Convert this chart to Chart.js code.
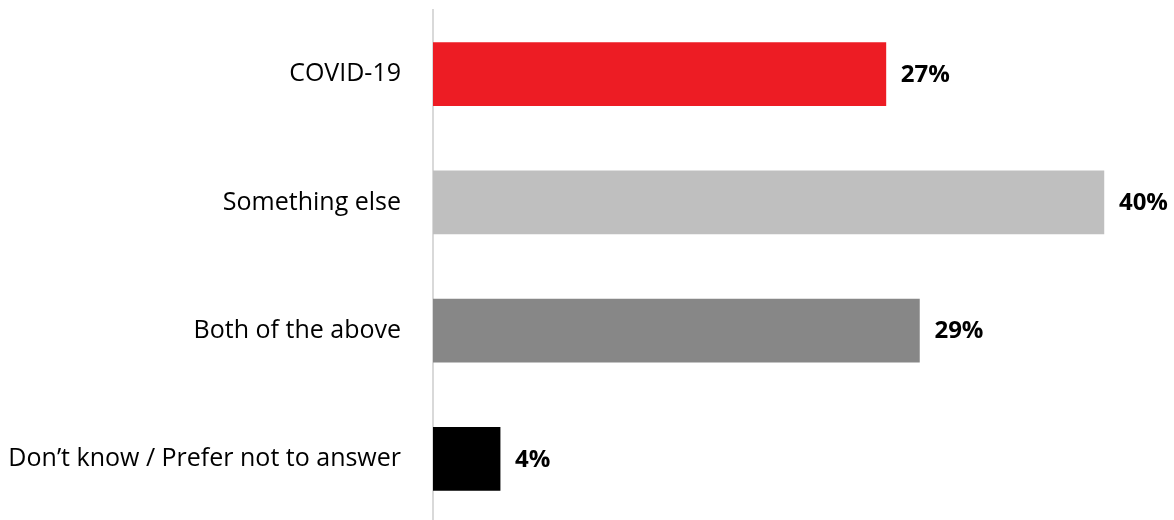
<!DOCTYPE html>
<html>
<head>
<meta charset="utf-8">
<script src="https://cdn.jsdelivr.net/npm/chart.js@4"></script>
<style>
  html, body { margin: 0; padding: 0; background: #fff; overflow: hidden; width: 1174px; height: 520px; }
  canvas { display: block; }
</style>
</head>
<body>
<canvas id="chart" width="1174" height="533"></canvas>
<script>
const categories = ["COVID-19", "Something else", "Both of the above", "Don\u2019t know / Prefer not to answer"];
const values = [27, 40, 29, 4];
const barColors = ["#ED1C24", "#BFBFBF", "#878787", "#000000"];

// draw the % next to each bar
const valueLabels = {
    id: "valueLabels",
    afterDatasetsDraw(chart) {
        const ctx = chart.ctx;
        const meta = chart.getDatasetMeta(0);
        ctx.save();
        ctx.font = "bold 24px 'Open Sans'";
        ctx.fillStyle = "#000";
        ctx.textBaseline = "middle";
        meta.data.forEach((bar, i) => {
            ctx.fillText(values[i] + "%", bar.x + 15, bar.y + 1);
        });
        ctx.restore();
    }
};

const ctx = document.getElementById("chart").getContext("2d");
const chart = new Chart(ctx, {
    type: "bar",
    data: {
        labels: categories,
        datasets: [{
            data: values,
            backgroundColor: barColors,
            barThickness: 63
        }]
    },
    options: {
        indexAxis: "y",
        responsive: false,
        animation: false,
        layout: { padding: { top: 10, right: 3, bottom: 10, left: 0 } },
        plugins: {
            legend: { display: false },
            tooltip: { enabled: false }
        },
        scales: {
            x: {
                display: false,
                min: 0,
                max: 44
            },
            y: {
                afterFit(scale) { scale.width = 433; },
                // ticks are not drawn, tickLength only makes the gap before the labels
                grid: { display: false, drawTicks: true, tickLength: 32 },
                border: { display: true, color: "#D9D9D9", width: 2 },
                ticks: {
                    padding: 0,
                    color: "#000",
                    font: { family: "'Open Sans'", size: 25, lineHeight: 0.7 }
                }
            }
        }
    },
    plugins: [valueLabels]
});
</script>
</body>
</html>
